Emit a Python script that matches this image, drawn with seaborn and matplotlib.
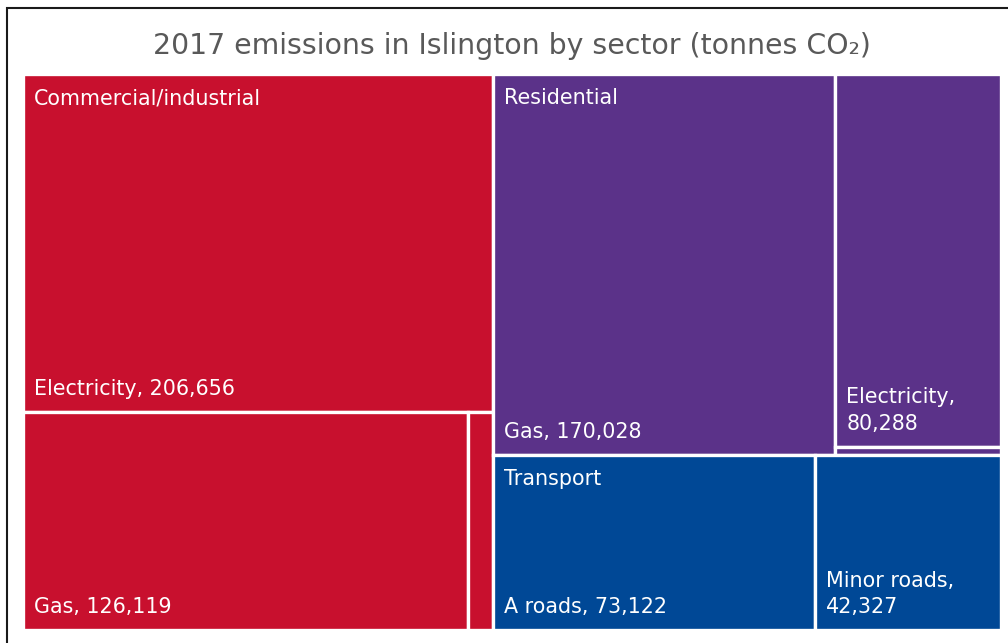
import matplotlib
matplotlib.use("Agg")
import matplotlib.pyplot as plt
from matplotlib.patches import Rectangle
import seaborn as sns

# Emissions data (tonnes CO2), Islington 2017
sectors = ["Commercial/industrial", "Residential", "Transport"]
sector_colors = ["#C8102E", "#5B3289", "#004896"]

leaf_sector = ["Commercial/industrial", "Commercial/industrial", "Commercial/industrial",
               "Residential", "Residential", "Residential",
               "Transport", "Transport"]
leaf_names = ["Electricity", "Gas", "Other fuels",
              "Gas", "Electricity", "Other fuels",
              "A roads", "Minor roads"]
leaf_values = [206656, 126119, 7120,
               170028, 80288, 1900,
               73122, 42327]
leaf_labelled = [True, True, False, True, True, False, True, True]

title = "2017 emissions in Islington by sector (tonnes CO\u2082)"

sns.set_theme(style="white")
FONT = ["DejaVu Sans"]
plt.rcParams["font.family"] = FONT

W, H = 1008, 643
fig = plt.figure(figsize=(W / 100, H / 100), dpi=100)
fig.patch.set_facecolor("white")

# treemap area in pixels
L, T, R, B = 23, 74, 1001, 630
PW, PH = R - L, B - T
ax = fig.add_axes([L / W, 1 - B / H, PW / W, PH / H])
ax.set_xlim(0, PW)
ax.set_ylim(PH, 0)
ax.axis("off")


def worst(row, side):
    s = sum(row)
    t = s / side
    return max(max(t / (r / t), (r / t) / t) for r in row)


def squarify(sizes, x, y, dx, dy):
    """Squarified treemap; y grows downward."""
    total = sum(sizes)
    sizes = [v * dx * dy / total for v in sizes]
    rects = []
    while sizes:
        if len(sizes) == 1:
            rects.append((x, y, dx, dy))
            break
        side = min(dx, dy)
        i = 1
        while i < len(sizes) and worst(sizes[:i + 1], side) <= worst(sizes[:i], side):
            i += 1
        row, sizes = sizes[:i], sizes[i:]
        s = sum(row)
        if dx >= dy:
            t = s / dy
            yy = y
            for r in row:
                h = r / t
                rects.append((x, yy, t, h))
                yy += h
            x, dx = x + t, dx - t
        else:
            t = s / dx
            xx = x
            for r in row:
                w = r / t
                rects.append((xx, y, w, t))
                xx += w
            y, dy = y + t, dy - t
    return rects


sector_totals = [sum(v for s, v in zip(leaf_sector, leaf_values) if s == sec) for sec in sectors]
sector_rects = squarify(sector_totals, 0, 0, PW, PH)

fig.canvas.draw()
renderer = fig.canvas.get_renderer()

label_size = 14.9
for sec, color, (sx, sy, sw, sh) in zip(sectors, sector_colors, sector_rects):
    idx = [i for i, s in enumerate(leaf_sector) if s == sec]
    vals = [leaf_values[i] for i in idx]
    rects = squarify(vals, sx, sy, sw, sh)
    for i, (x, y, w, h) in zip(idx, rects):
        ax.add_patch(Rectangle((x, y), w, h, facecolor=color, edgecolor="white", linewidth=2.4))
        if leaf_labelled[i]:
            txt = f"{leaf_names[i]}, {leaf_values[i]:,}"
            t = ax.text(x + 11, y + h - 13, txt, color="white", fontsize=label_size,
                        ha="left", va="bottom", family=FONT, linespacing=1.4)
            ext = t.get_window_extent(renderer)
            if ext.width > w - 18:
                t.set_text(f"{leaf_names[i]},\n{leaf_values[i]:,}")
    ax.text(sx + 11, sy + 14, sec, color="white", fontsize=label_size,
            ha="left", va="top", family=FONT)

fig.text((L + R) / 2 / W, 1 - 46 / H, title, ha="center", va="center",
         fontsize=20.4, color="#595959", family=FONT)

# outer chart frame
fig.add_artist(Rectangle((7 / W, -0.05), 1.1, 1 - 8 / H + 0.05, transform=fig.transFigure,
                         facecolor="none", edgecolor="#1a1a1a", linewidth=1.5))

fig.savefig("out.png", dpi=100, facecolor="white")
